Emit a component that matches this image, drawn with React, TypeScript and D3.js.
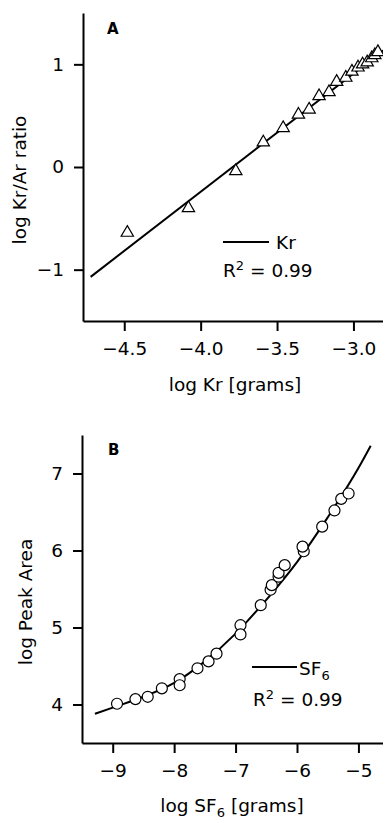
import React, { useEffect, useRef } from "react";
import * as d3 from "d3";

// Panel A: log Kr vs log Kr/Ar ratio (triangles)
const krX = [-4.48, -4.08, -3.77, -3.59, -3.46, -3.36, -3.29, -3.225, -3.16, -3.11, -3.05, -3.01, -2.97, -2.94, -2.91, -2.88, -2.86, -2.84];
const krY = [-0.64, -0.40, -0.04, 0.24, 0.38, 0.51, 0.56, 0.69, 0.73, 0.83, 0.87, 0.93, 0.97, 1.0, 1.02, 1.06, 1.09, 1.12];
// fitted line endpoints
const krFitX = [-4.72, -2.8];
const krFitY = [-1.07, 1.14];
const krXTicks = [-4.5, -4.0, -3.5, -3.0];
const krYTicks = [-1, 0, 1];

// Panel B: log SF6 vs log peak area (circles)
const sfX = [-8.93, -8.63, -8.43, -8.2, -7.91, -7.91, -7.62, -7.44, -7.31, -6.92, -6.92, -6.59, -6.43, -6.41, -6.3, -6.3, -6.2, -5.89, -5.91, -5.59, -5.39, -5.28, -5.16];
const sfY = [4.01, 4.07, 4.1, 4.21, 4.33, 4.25, 4.47, 4.56, 4.66, 5.03, 4.91, 5.29, 5.49, 5.55, 5.66, 5.71, 5.81, 5.99, 6.05, 6.31, 6.52, 6.67, 6.74];
// fitted curve
const sfFitX = [-9.29, -9.0, -8.5, -8.0, -7.5, -7.0, -6.5, -6.0, -5.5, -5.0, -4.8];
const sfFitY = [3.88, 3.96, 4.1, 4.28, 4.56, 4.92, 5.36, 5.85, 6.43, 7.07, 7.36];
const sfXTicks = [-9, -8, -7, -6, -5];
const sfYTicks = [4, 5, 6, 7];

const FONT = "'DejaVu Sans', Verdana, sans-serif";
const FS = 18.5;

export default function App() {
  const ref = useRef<SVGSVGElement>(null);

  useEffect(() => {
    const svg = d3.select(ref.current);
    svg.selectAll("*").remove();

    const drawPanel = (opts: any) => {
      const { x, y, xTicks, yTicks, xFmt, yFmt } = opts;
      const g = svg.append("g");

      const xAxis = g.append("g")
        .attr("transform", `translate(0, ${y.range()[0]})`)
        .call(d3.axisBottom(x).tickValues(xTicks).tickFormat(xFmt).tickSize(10).tickSizeOuter(0).tickPadding(11));
      const yAxis = g.append("g")
        .attr("transform", `translate(${x.range()[0]}, 0)`)
        .call(d3.axisLeft(y).tickValues(yTicks).tickFormat(yFmt).tickSize(9).tickSizeOuter(0).tickPadding(10));

      [xAxis, yAxis].forEach(a => {
        a.selectAll("path, line").attr("stroke", "#000").attr("stroke-width", 2);
        a.selectAll("text").attr("font-family", FONT).attr("font-size", FS).attr("fill", "#000");
      });
      return g;
    };

    // ---------- Panel A ----------
    const xA = d3.scaleLinear().domain([-4.77, -2.8]).range([83, 384]);
    const yA = d3.scaleLinear().domain([-1.5, 1.5]).range([321, 13]);
    const gA = drawPanel({ x: xA, y: yA, xTicks: krXTicks, yTicks: krYTicks, xFmt: d3.format(".1f"), yFmt: d3.format("d") });

    const lineA = d3.line<number>().x((d, i) => xA(krFitX[i])).y(d => yA(d));
    gA.append("path").attr("d", lineA(krFitY)).attr("fill", "none").attr("stroke", "#000").attr("stroke-width", 2);

    const tri = d3.symbol().type(d3.symbolTriangle).size(66);
    gA.selectAll(".tri").data(krY).join("path")
      .attr("d", tri)
      .attr("transform", (d, i) => `translate(${xA(krX[i])}, ${yA(d)})`)
      .attr("fill", "#fff").attr("stroke", "#000").attr("stroke-width", 1.2);

    gA.append("text").attr("x", 107).attr("y", 34).attr("font-family", FONT).attr("font-size", 15).attr("font-weight", "bold").text("A");
    gA.append("text").attr("transform", "translate(26, 180) rotate(-90)").attr("text-anchor", "middle")
      .attr("font-family", FONT).attr("font-size", FS).text("log Kr/Ar ratio");
    gA.append("text").attr("x", 235).attr("y", 391).attr("text-anchor", "middle")
      .attr("font-family", FONT).attr("font-size", FS).text("log Kr [grams]");

    gA.append("line").attr("x1", 223).attr("x2", 269).attr("y1", 242).attr("y2", 242).attr("stroke", "#000").attr("stroke-width", 2);
    gA.append("text").attr("x", 276).attr("y", 249).attr("font-family", FONT).attr("font-size", FS).text("Kr");
    const rA = gA.append("text").attr("x", 223).attr("y", 277).attr("font-family", FONT).attr("font-size", FS);
    rA.append("tspan").text("R");
    rA.append("tspan").attr("dy", -7).attr("font-size", 13).text("2");
    rA.append("tspan").attr("dy", 7).text(" = 0.99");

    // ---------- Panel B ----------
    const xB = d3.scaleLinear().domain([-9.5, -4.6]).range([82, 383]);
    const yB = d3.scaleLinear().domain([3.5, 7.5]).range([743, 435]);
    const gB = drawPanel({ x: xB, y: yB, xTicks: sfXTicks, yTicks: sfYTicks, xFmt: d3.format("d"), yFmt: d3.format("d") });

    const lineB = d3.line<number>().x((d, i) => xB(sfFitX[i])).y(d => yB(d)).curve(d3.curveMonotoneX);
    gB.append("path").attr("d", lineB(sfFitY)).attr("fill", "none").attr("stroke", "#000").attr("stroke-width", 2);

    gB.selectAll(".pt").data(sfY).join("circle")
      .attr("cx", (d, i) => xB(sfX[i])).attr("cy", d => yB(d)).attr("r", 5.5)
      .attr("fill", "#fff").attr("stroke", "#000").attr("stroke-width", 1.2);

    gB.append("text").attr("x", 108).attr("y", 455).attr("font-family", FONT).attr("font-size", 15).attr("font-weight", "bold").text("B");
    gB.append("text").attr("transform", "translate(32, 602) rotate(-90)").attr("text-anchor", "middle")
      .attr("font-family", FONT).attr("font-size", FS).text("log Peak Area");
    const tB = gB.append("text").attr("x", 232).attr("y", 812).attr("text-anchor", "middle")
      .attr("font-family", FONT).attr("font-size", FS);
    tB.append("tspan").text("log SF");
    tB.append("tspan").attr("dy", 5).attr("font-size", 13).text("6");
    tB.append("tspan").attr("dy", -5).text(" [grams]");

    gB.append("line").attr("x1", 252).attr("x2", 297).attr("y1", 667).attr("y2", 667).attr("stroke", "#000").attr("stroke-width", 2);
    const sB = gB.append("text").attr("x", 299).attr("y", 675).attr("font-family", FONT).attr("font-size", FS);
    sB.append("tspan").text("SF");
    sB.append("tspan").attr("dy", 5).attr("font-size", 13).text("6");
    const rB = gB.append("text").attr("x", 253).attr("y", 706).attr("font-family", FONT).attr("font-size", FS);
    rB.append("tspan").text("R");
    rB.append("tspan").attr("dy", -7).attr("font-size", 13).text("2");
    rB.append("tspan").attr("dy", 7).text(" = 0.99");
  }, []);

  return (
    <div style={{ position: "absolute", left: 0, top: 0 }}>
      <svg ref={ref} width={383} height={819} style={{ display: "block", background: "#fff" }} />
    </div>
  );
}
